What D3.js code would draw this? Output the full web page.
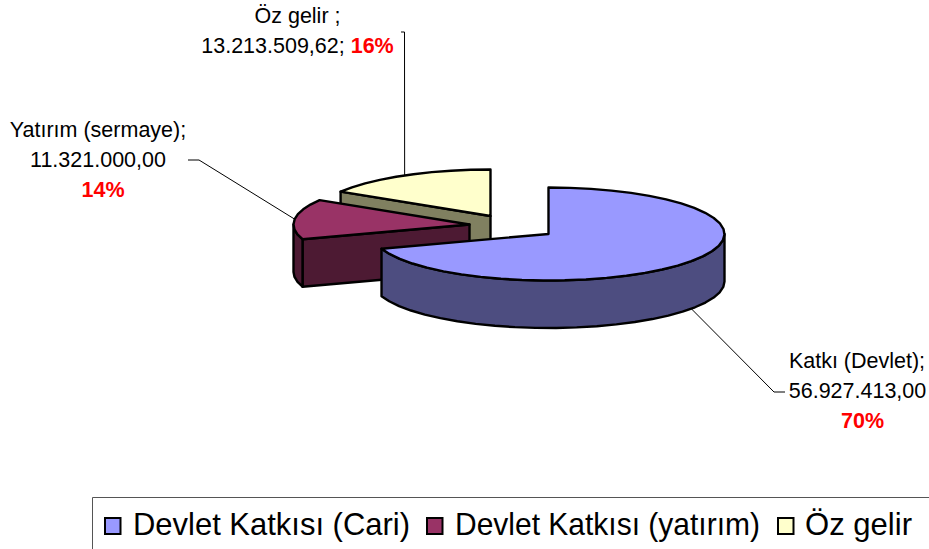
<!DOCTYPE html>
<html>
<head>
<meta charset="utf-8">
<script src="https://cdnjs.cloudflare.com/ajax/libs/d3/7.8.5/d3.min.js"></script>
<style>
html,body{margin:0;padding:0;background:#fff}
svg{display:block}
text{font-family:"Liberation Sans",Arial,sans-serif;fill:#000}
</style>
</head>
<body>
<svg id="c" width="929" height="549"></svg>
<script>
const sliceNames = ["Katkı (Devlet)", "Yatırım (sermaye)", "Öz gelir"];
const sliceValues = [56927413.00, 11321000.00, 13213509.62];
const valueLabels = ["56.927.413,00", "11.321.000,00", "13.213.509,62"];
const percentLabels = ["70%", "14%", "16%"];
const legendLabels = ["Devlet Katkısı (Cari)", "Devlet Katkısı (yatırım)", "Öz gelir"];
const topColors = ["#9999FF", "#993366", "#FFFFCC"];
const wallColors = ["#4D4D80", "#4D1A33", "#808060"];

const rx = 176, ry = 46.5, depth = 47.5;
const apexX = [548.5, 469.5, 490.5], apexY = [234, 224.5, 216];
const svg = d3.select("#c");
const arcs = d3.pie().sort(null).startAngle(0).endAngle(2*Math.PI)(sliceValues);

const px = d3.scaleLinear().domain([-1,1]).range([-rx,rx]);
const py = d3.scaleLinear().domain([-1,1]).range([-ry,ry]);
const rimPoint = (i,a,drop=0) => [apexX[i]+px(Math.sin(a)), apexY[i]-py(Math.cos(a))+drop];
const rim = (i,a0,a1,drop=0) => {
  const n = Math.max(1,Math.ceil(Math.abs(a1-a0)/(7*Math.PI/180)));
  return d3.range(n+1).map(k => rimPoint(i,a0+(a1-a0)*k/n,drop));
};
const line = d3.line();
const closed = pts => line(pts)+"Z";
const P = Math.PI;
const pieG = svg.append("g")
  .attr("stroke","#000").attr("stroke-width",2.4).attr("stroke-linejoin","round");

// back to front: Öz gelir, Yatırım, Katkı
[2,1,0].forEach(i => {
  const {startAngle:s,endAngle:e} = arcs[i];
  const apex = [apexX[i],apexY[i]];
  // cut face on the start edge, when it faces the viewer
  const p = rimPoint(i,s);
  if (s > P) {
    pieG.append("path").attr("fill",wallColors[i])
      .attr("d",closed([apex,p,[p[0],p[1]+depth],[apex[0],apex[1]+depth]]));
  }
  // curved outer wall (front half only)
  const a0 = Math.max(s,P/2), a1 = Math.min(e,3*P/2);
  if (a1>a0) {
    pieG.append("path").attr("fill",wallColors[i])
      .attr("d",closed([...rim(i,a0,a1),...rim(i,a1,a0,depth)]));
  }
  // top face
  pieG.append("path").attr("fill",topColors[i])
    .attr("d",closed([apex,...rim(i,s,e)]));
});

// leader lines
const mid = arcs.map(d => (d.startAngle+d.endAngle)/2);
const leaders = [
  [[774,392],[785,392]],
  [[199,160],[188,160]],
  [[404.5,32],[401,32]]
];
const anchor = [rimPoint(0,mid[0],depth), rimPoint(1,mid[1]), rimPoint(2,mid[2])];
const lg = svg.append("g").attr("fill","none").attr("stroke","#000").attr("stroke-width",1);
leaders.forEach((l,i) => lg.append("path").attr("d",line([anchor[i],...l])));

// labels
const fs = 21.5;
const label = (x,y,txt,opts={}) => svg.append("text").attr("x",x).attr("y",y)
  .attr("text-anchor","middle").attr("font-size",fs)
  .attr("font-weight",opts.bold?"bold":null).style("fill",opts.bold?"#FF0000":"#000")
  .text(txt);
label(857,368,sliceNames[0]+";");
label(857.5,398,valueLabels[0]);
label(862.5,428,percentLabels[0],{bold:true});
label(98,137,sliceNames[1]+";");
label(98,167,valueLabels[1]);
label(103,197,percentLabels[1],{bold:true});
label(297.5,23,sliceNames[2]+" ;");
const t = svg.append("text").attr("x",297.5).attr("y",53).attr("text-anchor","middle").attr("font-size",fs);
t.append("tspan").text(valueLabels[2]+"; ");
t.append("tspan").attr("font-weight","bold").style("fill","#FF0000").text(percentLabels[2]);

// legend
svg.append("path").attr("d","M92.5,549V497.5H929").attr("fill","none").attr("stroke","#555").attr("stroke-width",1);
const swatchX = [105,427,778], textX = [133,455,805], textW = [277,305,107];
legendLabels.forEach((s,i) => {
  svg.append("rect").attr("x",swatchX[i]).attr("y",518).attr("width",15.5).attr("height",16)
    .attr("fill",topColors[i]).attr("stroke","#000").attr("stroke-width",2);
  svg.append("text").attr("x",textX[i]).attr("y",535).attr("font-size",32)
    .attr("textLength",textW[i]).attr("lengthAdjust","spacingAndGlyphs").text(s);
});
</script>
</body>
</html>
